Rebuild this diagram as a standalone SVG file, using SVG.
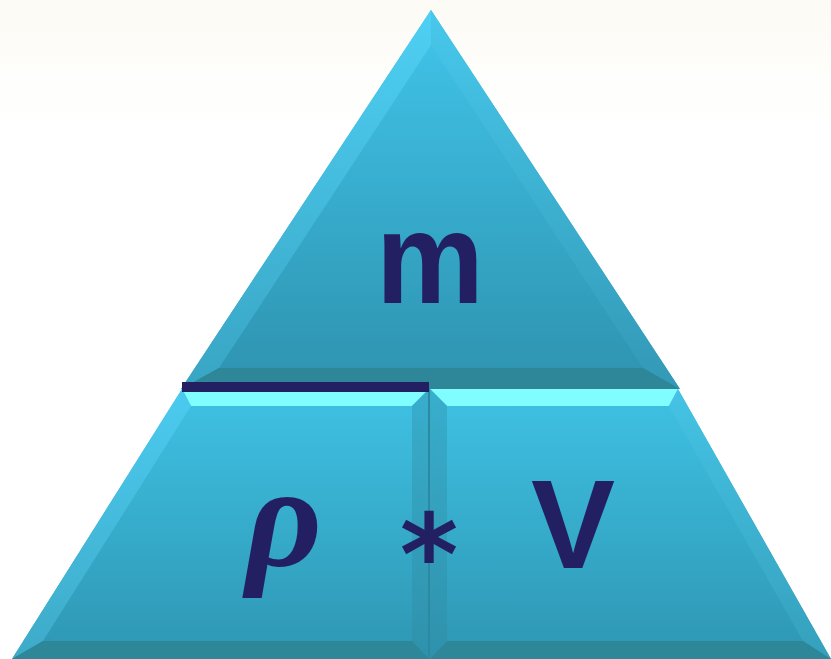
<svg xmlns="http://www.w3.org/2000/svg" width="831" height="659" viewBox="0 0 831 659">
<defs>
<linearGradient id="bg" x1="0" y1="0" x2="0" y2="1"><stop offset="0" stop-color="#fcfaf4"/><stop offset="0.12" stop-color="#fefefc"/><stop offset="0.2" stop-color="#ffffff"/></linearGradient>
<linearGradient id="faceTop" gradientUnits="userSpaceOnUse" x1="0" y1="40" x2="0" y2="370"><stop offset="0" stop-color="#3fc1e6"/><stop offset="1" stop-color="#2f95b2"/></linearGradient>
<linearGradient id="lbTop" gradientUnits="userSpaceOnUse" x1="0" y1="10" x2="0" y2="386"><stop offset="0" stop-color="#4ed0f4"/><stop offset="1" stop-color="#39a5c4"/></linearGradient>
<linearGradient id="rbTop" gradientUnits="userSpaceOnUse" x1="0" y1="10" x2="0" y2="386"><stop offset="0" stop-color="#47c8ec"/><stop offset="1" stop-color="#3399b6"/></linearGradient>
<linearGradient id="faceBot" gradientUnits="userSpaceOnUse" x1="0" y1="405" x2="0" y2="642"><stop offset="0" stop-color="#3ebfe1"/><stop offset="1" stop-color="#2f99b6"/></linearGradient>
<linearGradient id="lbBot" gradientUnits="userSpaceOnUse" x1="0" y1="389" x2="0" y2="659"><stop offset="0" stop-color="#4bcbf0"/><stop offset="1" stop-color="#3eaac8"/></linearGradient>
<linearGradient id="rbBot" gradientUnits="userSpaceOnUse" x1="0" y1="389" x2="0" y2="659"><stop offset="0" stop-color="#45c3e5"/><stop offset="1" stop-color="#35a0bc"/></linearGradient>
<linearGradient id="ibBot" gradientUnits="userSpaceOnUse" x1="0" y1="389" x2="0" y2="659"><stop offset="0" stop-color="#38aecd"/><stop offset="1" stop-color="#2f91ab"/></linearGradient>
<style>
.db{fill:#2e8799}
.tb{fill:#80fdff}
.lbl{fill:#231f63;font-weight:700;text-anchor:middle}
</style>
</defs>
<rect width="831" height="659" fill="url(#bg)"/>
<g id="node-m">
<polygon points="431,10 181,389 680,389" fill="url(#faceTop)"/>
<polygon fill="url(#lbTop)" points="431,10 431,45 219,368 181,389"/>
<polygon fill="url(#rbTop)" points="431,10 431,45 643,368 680,389"/>
<polygon class="db" points="181,389 219,368 643,368 680,389"/>
<text class="lbl" x="0" y="0" transform="translate(430 303) scale(0.94 1)" font-family="Liberation Sans, Arial, sans-serif" font-size="129">m</text>
</g>
<g id="node-rho">
<polygon points="182,389 429,389 429,659 12,659" fill="url(#faceBot)"/>
<polygon class="tb" points="182,389 429,389 412,406 191,406"/>
<polygon fill="url(#lbBot)" points="182,389 191,406 43,641 12,659"/>
<polygon fill="url(#ibBot)" points="429,389 412,406 412,641 429,659"/>
<polygon class="db" points="12,659 43,641 412,641 429,659"/>
<text class="lbl" x="284" y="566" font-family="Liberation Serif, serif" font-style="italic" font-size="148">ρ</text>
</g>
<g id="node-V">
<polygon points="430,389 678,389 831,659 430,659" fill="url(#faceBot)"/>
<polygon class="tb" points="430,389 678,389 669,406 447,406"/>
<polygon fill="url(#ibBot)" points="430,389 447,406 447,641 430,659"/>
<polygon fill="url(#rbBot)" points="678,389 669,406 803,641 831,659"/>
<polygon class="db" points="430,659 447,641 803,641 831,659"/>
<text class="lbl" x="573" y="568" font-family="Liberation Sans, Arial, sans-serif" font-size="126">V</text>
</g>
<g id="connectors">
<rect x="428" y="389" width="2" height="270" fill="#2b89a2"/>
<rect x="182" y="382" width="247" height="10" fill="#231f63"/>
<text class="lbl" x="429" y="594" font-family="DejaVu Sans, sans-serif" font-size="112">*</text>
</g>
</svg>
